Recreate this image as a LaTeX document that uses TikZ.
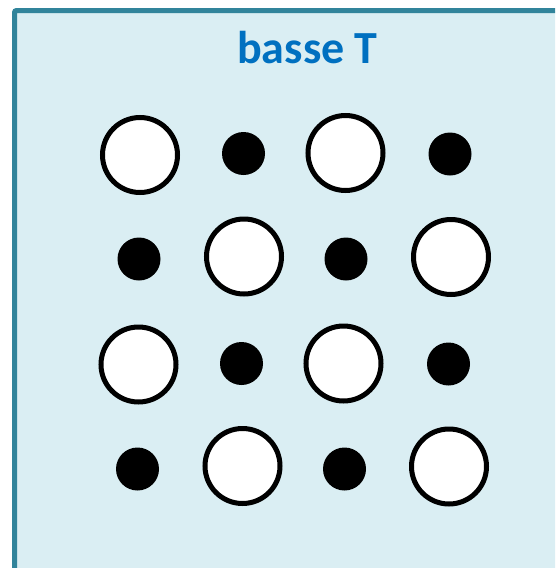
\documentclass[tikz,border=0pt]{standalone}
\usepackage{fontspec}
\setmainfont{Carlito}
\definecolor{boxfill}{HTML}{DAEEF3}
\definecolor{boxline}{HTML}{31849B}
\definecolor{titleblue}{HTML}{0070C0}
\tikzset{
  big/.style={circle, draw=black, fill=white, line width=5pt, minimum size=75pt, inner sep=0pt},
  small/.style={circle, fill=black, minimum size=43pt, inner sep=0pt},
  titletext/.style={font=\bfseries\fontsize{46}{50}\selectfont, text=titleblue, inner sep=0pt, anchor=base}
}
\begin{document}
\begin{tikzpicture}[x=1pt,y=-1pt]
\useasboundingbox (0,0) rectangle (555,568);
\begin{scope}
\clip (0,0) rectangle (555,568);
\fill[boxfill] (14.5,10.5) rectangle (600,600);
\draw[boxline, line width=5pt, rounded corners=2pt] (14.5,600) -- (14.5,10.5) -- (600,10.5);
\end{scope}
\node[titletext] (title) at (307.5,63) {basse T};
% row 1
\node[big]   (a1) at (140,155) {};
\node[small] (a2) at (243.5,153.5) {};
\node[big]   (a3) at (345.5,153) {};
\node[small] (a4) at (450,154) {};
% row 2
\node[small] (b1) at (139,259) {};
\node[big]   (b2) at (244,256.5) {};
\node[small] (b3) at (346,259) {};
\node[big]   (b4) at (451,257) {};
% row 3
\node[big]   (c1) at (138.5,364.5) {};
\node[small] (c2) at (241.5,363.5) {};
\node[big]   (c3) at (343.5,363.5) {};
\node[small] (c4) at (448.5,364) {};
% row 4
\node[small] (d1) at (137.5,469) {};
\node[big]   (d2) at (242.5,466) {};
\node[small] (d3) at (344.5,469) {};
\node[big]   (d4) at (449,466.5) {};
\end{tikzpicture}
\end{document}
